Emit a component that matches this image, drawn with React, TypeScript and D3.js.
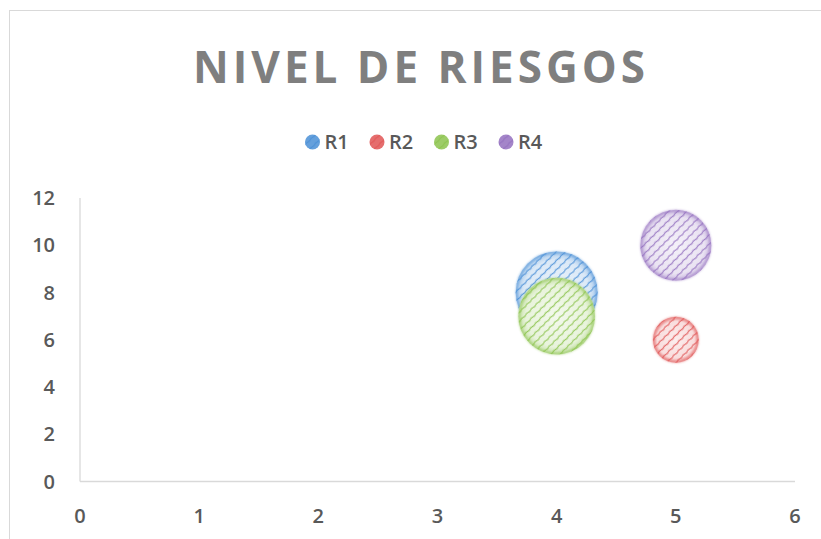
import React, { useEffect, useRef } from "react";
import * as d3 from "d3";

const series = ["R1", "R2", "R3", "R4"];
const xValues = [4, 5, 4, 5];
const yValues = [8, 6, 7, 10];
const sizes = [16, 5, 14, 12];
const colors = ["#4a8fd6", "#e05555", "#8cc34e", "#9470bf"];
const xTicks = [0, 1, 2, 3, 4, 5, 6];
const yTicks = [0, 2, 4, 6, 8, 10, 12];

const App = () => {
  const svgRef = useRef<SVGSVGElement | null>(null);

  useEffect(() => {
    const svg = d3.select(svgRef.current);
    svg.selectAll("*").remove();

    const width = 821,
      height = 539;
    const x = d3.scaleLinear().domain([0, 6]).range([80, 795]);
    const y = d3.scaleLinear().domain([0, 12]).range([481.5, 198]);
    const r = d3.scaleSqrt().domain([0, 16]).range([0, 41]);
    const font = "'Open Sans', 'DejaVu Sans', sans-serif";

    const defs = svg.append("defs");
    colors.forEach((c, i) => {
      // wavy diagonal hatching
      const pat = defs
        .append("pattern")
        .attr("id", `wave${i}`)
        .attr("patternUnits", "userSpaceOnUse")
        .attr("width", 7)
        .attr("height", 6.5)
        .attr("patternTransform", "rotate(-45)");
      pat
        .append("path")
        .attr("d", "M0 3.25 Q1.75 2.4 3.5 3.25 T7 3.25")
        .attr("fill", "none")
        .attr("stroke", c)
        .attr("stroke-width", 1.2)
        .attr("opacity", 0.9);

      const grad = defs
        .append("radialGradient")
        .attr("id", `glow${i}`);
      grad.append("stop").attr("offset", "0%").attr("stop-color", c).attr("stop-opacity", 0.1);
      grad.append("stop").attr("offset", "80%").attr("stop-color", c).attr("stop-opacity", 0.2);
      grad.append("stop").attr("offset", "100%").attr("stop-color", c).attr("stop-opacity", 0.5);
    });
    const blur = defs.append("filter").attr("id", "soft");
    blur.append("feGaussianBlur").attr("stdDeviation", 0.8);

    // chart frame
    svg
      .append("rect")
      .attr("x", 9.5)
      .attr("y", 10.5)
      .attr("width", width)
      .attr("height", height)
      .attr("fill", "#fff")
      .attr("stroke", "#d9d9d9");

    svg
      .append("text")
      .attr("x", 419)
      .attr("y", 83)
      .attr("text-anchor", "middle")
      .attr("textLength", 452)
      .attr("lengthAdjust", "spacing")
      .style("font-family", font)
      .style("font-weight", 700)
      .style("font-size", "44px")
      .style("fill", "#7f7f7f")
      .text("NIVEL DE RIESGOS");

    // legend
    const legend = svg
      .selectAll("g.leg")
      .data(series)
      .join("g")
      .attr("transform", (d, i) => `translate(${312.5 + i * 64.5},142)`);
    legend.append("circle").attr("r", 7.5).attr("fill", (d, i) => colors[i]).attr("opacity", 0.85);
    legend.append("circle").attr("r", 7.5).attr("fill", (d, i) => `url(#wave${i})`);
    legend
      .append("text")
      .attr("x", 12)
      .attr("y", 7)
      .style("font-family", font)
      .style("font-weight", 600)
      .style("font-size", "20px")
      .style("fill", "#595959")
      .text((d) => d);

    // axes
    svg
      .append("line")
      .attr("x1", x(0))
      .attr("x2", x(0))
      .attr("y1", y(12))
      .attr("y2", y(0))
      .attr("stroke", "#d9d9d9")
      .attr("stroke-width", 1.3);
    svg
      .append("line")
      .attr("x1", x(0))
      .attr("x2", x(6))
      .attr("y1", y(0))
      .attr("y2", y(0))
      .attr("stroke", "#d9d9d9")
      .attr("stroke-width", 1.3);

    svg
      .selectAll("text.yt")
      .data(yTicks)
      .join("text")
      .attr("x", 55)
      .attr("y", (d) => y(d) + 7)
      .attr("text-anchor", "end")
      .style("font-family", font)
      .style("font-weight", 600)
      .style("font-size", "20px")
      .style("fill", "#595959")
      .text((d) => d);
    svg
      .selectAll("text.xt")
      .data(xTicks)
      .join("text")
      .attr("x", (d) => x(d))
      .attr("y", 523)
      .attr("text-anchor", "middle")
      .style("font-family", font)
      .style("font-weight", 600)
      .style("font-size", "20px")
      .style("fill", "#595959")
      .text((d) => d);

    // bubbles
    const bubbles = svg
      .selectAll("g.bubble")
      .data(series)
      .join("g")
      .attr("transform", (d, i) => `translate(${x(xValues[i])},${y(yValues[i])})`);
    bubbles.append("circle").attr("r", (d, i) => r(sizes[i])).attr("fill", "#fff");
    bubbles.append("circle").attr("r", (d, i) => r(sizes[i])).attr("fill", (d, i) => `url(#glow${i})`);
    bubbles.append("circle").attr("r", (d, i) => r(sizes[i])).attr("fill", (d, i) => `url(#wave${i})`);
    bubbles
      .append("circle")
      .attr("r", (d, i) => r(sizes[i]) - 1)
      .attr("fill", "none")
      .attr("stroke", (d, i) => colors[i])
      .attr("stroke-opacity", 0.6)
      .attr("stroke-width", 2)
      .attr("filter", "url(#soft)");

    return () => {
      d3.select(svgRef.current).selectAll("*").remove();
    };
  }, []);

  return (
    <svg
      ref={svgRef}
      width={821}
      height={539}
      style={{ position: "absolute", left: 0, top: 0 }}
    />
  );
};

export default App;
